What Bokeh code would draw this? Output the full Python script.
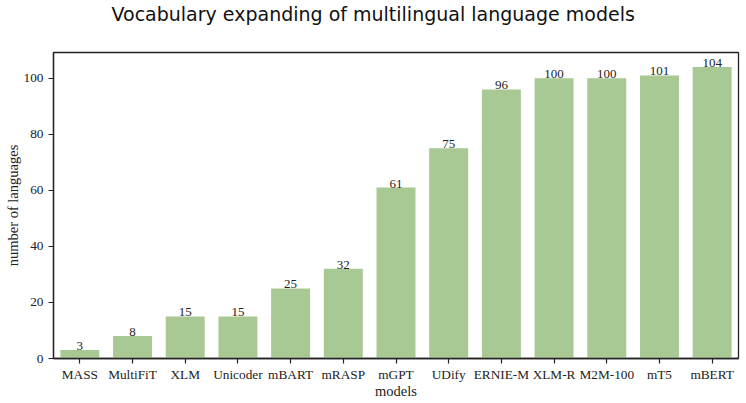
from bokeh.plotting import figure
from bokeh.models import FactorRange, Range1d, FixedTicker, ColumnDataSource, Title
from bokeh.embed import file_html
from bokeh.resources import INLINE
from bokeh.core.properties import value

title_text = "Vocabulary expanding of multilingual language models"
x_label = "models"
y_label = "number of languages"
models = ["MASS", "MultiFiT", "XLM", "Unicoder", "mBART", "mRASP", "mGPT",
          "UDify", "ERNIE-M", "XLM-R", "M2M-100", "mT5", "mBERT"]
languages = [3, 8, 15, 15, 25, 32, 61, 75, 96, 100, 100, 101, 104]
y_ticks = [0, 20, 40, 60, 80, 100]

src = ColumnDataSource(dict(model=models, n=languages,
                            label=[str(v) for v in languages]))

p = figure(width=746, height=403, output_backend="svg", toolbar_location=None,
           x_range=FactorRange(factors=models), y_range=Range1d(0, max(languages) * 1.05),
           title=None,
           min_border_left=53, min_border_right=8, min_border_top=52, min_border_bottom=45)

p.vbar(x="model", top="n", width=0.74, source=src, fill_color="#a9c994", line_color=None)
p.text(x="model", y="n", text="label", source=src, text_align="center",
       text_baseline="bottom", text_font=value("Liberation Serif"),
       text_font_size="13px", text_color="#222222")

# spacer between frame and title, then the title itself
p.add_layout(Title(text=" ", text_font_size="2px", standoff=24), "above")
p.add_layout(Title(text=title_text, text_font="DejaVu Sans", text_font_size="19px",
                   text_font_style="normal", text_color="#111111",
                   align="left", offset=58, standoff=0), "above")

p.xgrid.visible = False
p.ygrid.visible = False
p.outline_line_color = "#222222"
p.outline_line_width = 1.3

p.yaxis.ticker = FixedTicker(ticks=y_ticks)
for ax in (p.xaxis, p.yaxis):
    ax.axis_line_color = "#222222"
    ax.axis_line_width = 1.3
    ax.major_tick_in = 0
    ax.major_tick_out = 5
    ax.major_tick_line_color = "#222222"
    ax.major_tick_line_width = 1.2
    ax.minor_tick_line_color = None
    ax.major_label_text_font = "Liberation Serif"
    ax.major_label_text_font_size = "13.3px"
    ax.major_label_text_color = "#222222"
    ax.axis_label_text_font = "Liberation Serif"
    ax.axis_label_text_font_size = "14.5px"
    ax.axis_label_text_font_style = "normal"
    ax.axis_label_text_color = "#222222"
p.xaxis.major_label_standoff = 3
p.yaxis.major_label_standoff = 5
p.xaxis.axis_label_standoff = -2
p.yaxis.axis_label_standoff = 0

p.xaxis.axis_label = x_label
p.yaxis.axis_label = y_label

open("out.html", "w").write(file_html(p, INLINE))
